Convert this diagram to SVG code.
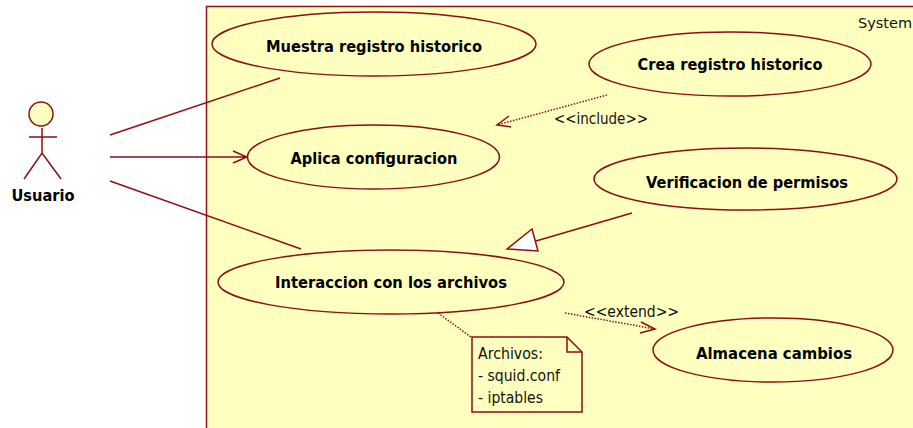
<svg xmlns="http://www.w3.org/2000/svg" width="913" height="428" viewBox="0 0 913 428">
<style>
.s{fill:#ffffc0;stroke:#8b0f14;stroke-width:1.5}
.l{fill:none;stroke:#8b0f14;stroke-width:1.5}
.d{fill:none;stroke:#8b0f14;stroke-width:1.5;stroke-dasharray:1.5 1.5}
.t{font-family:"DejaVu Sans",sans-serif;font-size:16px;fill:#111}
.b{font-family:"DejaVu Sans",sans-serif;font-size:15.500px;font-weight:bold;fill:#000}
</style>
<rect width="913" height="428" fill="#fff"/>
<g id="system">
<rect class="s" x="206.500" y="6.500" width="720" height="440"/>
<text class="t" x="858" y="28" style="font-size:14.500px">System</text>
</g>
<g id="connectors">
<path class="l" d="M110 135L280 78"/>
<path class="l" d="M110 157H247M233 151L247 157L233 163"/>
<path class="l" d="M110 181L301 249"/>
<path class="d" d="M607 95L497 125"/>
<path class="l" d="M509 116L497 125L511 127"/>
<path class="l" d="M632 213L536 241"/>
<path d="M507 249L532 229L538 251Z" fill="#fff" stroke="#8b0f14" stroke-width="1.500"/>
<path class="d" d="M565 313L655 329"/>
<path class="l" d="M641 322L655 329L640 333"/>
<path class="d" d="M438 313L471 337"/>
<text class="t" x="554" y="124" textLength="94" lengthAdjust="spacingAndGlyphs">&lt;&lt;include&gt;&gt;</text>
<text class="t" x="584" y="317" textLength="95" lengthAdjust="spacingAndGlyphs">&lt;&lt;extend&gt;&gt;</text>
</g>
<g id="actor-usuario">
<circle class="s" cx="41" cy="114" r="12"/>
<path class="l" d="M42 128V153M29 137H57M24 179L42 153L61 179"/>
<text class="b" x="43" y="201" text-anchor="middle" textLength="63" lengthAdjust="spacingAndGlyphs">Usuario</text>
</g>
<g id="uc-muestra">
<ellipse class="s" cx="374" cy="44" rx="162" ry="32"/>
<text class="b" x="374" y="52" text-anchor="middle" textLength="216" lengthAdjust="spacingAndGlyphs">Muestra registro historico</text>
</g>
<g id="uc-crea">
<ellipse class="s" cx="730" cy="64" rx="141" ry="32"/>
<text class="b" x="730" y="70" text-anchor="middle" textLength="185" lengthAdjust="spacingAndGlyphs">Crea registro historico</text>
</g>
<g id="uc-aplica">
<ellipse class="s" cx="373.500" cy="157" rx="126" ry="32"/>
<text class="b" x="374" y="164" text-anchor="middle" textLength="167" lengthAdjust="spacingAndGlyphs">Aplica configuracion</text>
</g>
<g id="uc-verificacion">
<ellipse class="s" cx="745.500" cy="179" rx="151.500" ry="31"/>
<text class="b" x="747" y="188" text-anchor="middle" textLength="202" lengthAdjust="spacingAndGlyphs">Verificacion de permisos</text>
</g>
<g id="uc-interaccion">
<ellipse class="s" cx="391" cy="282" rx="173" ry="32"/>
<text class="b" x="391" y="288" text-anchor="middle" textLength="232" lengthAdjust="spacingAndGlyphs">Interaccion con los archivos</text>
</g>
<g id="uc-almacena">
<ellipse class="s" cx="773" cy="350" rx="120" ry="32"/>
<text class="b" x="774" y="359" text-anchor="middle" textLength="156" lengthAdjust="spacingAndGlyphs">Almacena cambios</text>
</g>
<g id="note">
<path class="s" d="M472 337H567L582 352V412H472Z"/>
<path class="l" d="M567 337V352H582"/>
<text class="t" x="478" y="359" textLength="65" lengthAdjust="spacingAndGlyphs">Archivos:</text>
<text class="t" x="478" y="381" textLength="82" lengthAdjust="spacingAndGlyphs">- squid.conf</text>
<text class="t" x="478" y="403" textLength="65" lengthAdjust="spacingAndGlyphs">- iptables</text>
</g>
</svg>
